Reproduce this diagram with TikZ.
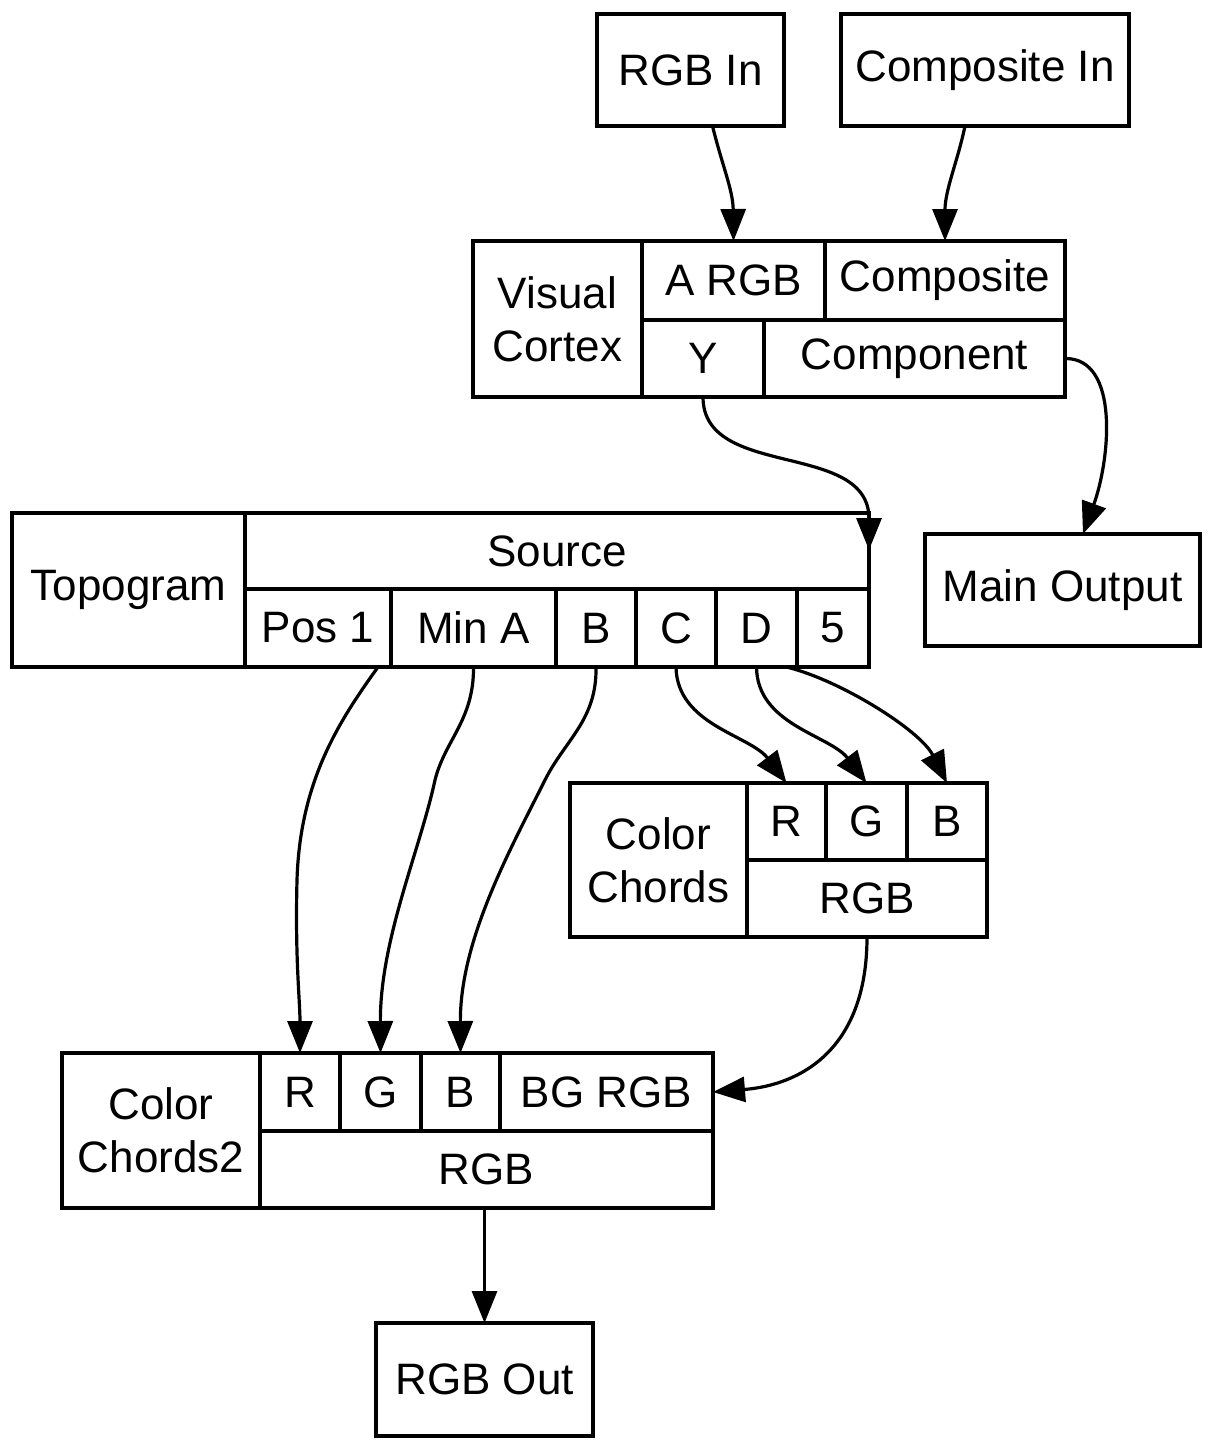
\documentclass[tikz,border=0pt]{standalone}
\usepackage{fontspec}
\setmainfont{Liberation Sans}
\usetikzlibrary{arrows.meta,calc}
\newcommand\fld[6]{\node[fld, minimum width={(#4-#2)*0.5pt}, minimum height={(#5-#3)*0.5pt}] (#1) at ({(#2+#4)/2},{(#3+#5)/2}) {#6};}
\begin{document}
\begin{tikzpicture}[x=0.5pt, y=-0.5pt, line width=1.6pt,
  font=\fontsize{22}{26.5}\selectfont,
  fld/.style={draw, inner sep=0pt, outer sep=0pt, align=center},
  conn/.style={-{Triangle[length=16pt,width=12.5pt]}, line width=1.6pt}]
\useasboundingbox (0,0) rectangle (1212,1450);
\fld{rgbin}{597}{14}{784}{126}{RGB In}
\fld{compin}{841}{14}{1129}{126}{Composite In}
\fld{vc}{473}{241}{642}{397}{Visual\\Cortex}
\fld{argb}{642}{241}{825}{320}{A RGB}
\fld{comp}{825}{241}{1065}{320}{Composite}
\fld{y}{642}{320}{764}{397}{Y}
\fld{cpt}{764}{320}{1065}{397}{Component}
\fld{topo}{12}{513}{245}{667}{Topogram}
\fld{src}{245}{513}{869}{589}{Source}
\fld{pos}{245}{589}{391}{667}{Pos 1}
\fld{mina}{391}{589}{556}{667}{Min A}
\fld{tb}{556}{589}{636}{667}{B}
\fld{tc}{636}{589}{716}{667}{C}
\fld{td}{716}{589}{797}{667}{D}
\fld{t5}{797}{589}{869}{667}{5}
\fld{mainout}{925}{534}{1200}{646}{Main Output}
\fld{cc}{570}{783}{747}{937}{Color\\Chords}
\fld{ccr}{747}{783}{826}{860}{R}
\fld{ccg}{826}{783}{907}{860}{G}
\fld{ccb}{907}{783}{987}{860}{B}
\fld{ccrgb}{747}{860}{987}{937}{RGB}
\fld{cct}{62}{1053}{260}{1208}{Color\\Chords2}
\fld{ctr}{260}{1053}{340}{1131}{R}
\fld{ctg}{340}{1053}{421}{1131}{G}
\fld{ctb}{421}{1053}{500}{1131}{B}
\fld{ctbg}{500}{1053}{713}{1131}{BG RGB}
\fld{ctrgb}{260}{1131}{713}{1208}{RGB}
\fld{rgbout}{376}{1323}{593}{1436}{RGB Out}
% connectors
\draw[conn] ($(rgbin.south)+(22,0)$) .. controls (722,165) and (733,190) .. (argb.north);
\draw[conn] ($(compin.south)+(-20,0)$) .. controls (958,160) and (945,190) .. (comp.north);
\draw[conn] (y.south) .. controls (703,480) and (869,440) .. ($(src.north east)+(0,37)$);
\draw[conn] (cpt.east) .. controls (1120,358) and (1110,460) .. ($(mainout.north)+(20.5,0)$);
\draw[conn] ($(pos.south)+(60,0)$) .. controls (340,720) and (300,780) .. (297,880) .. controls (295,960) and (300,1000) .. (ctr.north);
\draw[conn] (mina.south) .. controls (474,720) and (445,740) .. (435,780) .. controls (420,850) and (380,940) .. (ctg.north);
\draw[conn] (tb.south) .. controls (597,720) and (565,740) .. (545,780) .. controls (510,850) and (460,940) .. (ctb.north);
\draw[conn] (tc.south) .. controls (677,725) and (750,735) .. (ccr.north);
\draw[conn] (td.south) .. controls (757,725) and (830,735) .. (ccg.north);
\draw[conn] ($(td.south)+(30,0)$) .. controls (840,680) and (920,730) .. (ccb.north);
\draw[conn] (ccrgb.south) .. controls (867,1050) and (800,1085) .. (ctbg.east);
\draw[conn] (rgbout.north |- ctrgb.south) -- (rgbout.north);
\end{tikzpicture}
\end{document}
